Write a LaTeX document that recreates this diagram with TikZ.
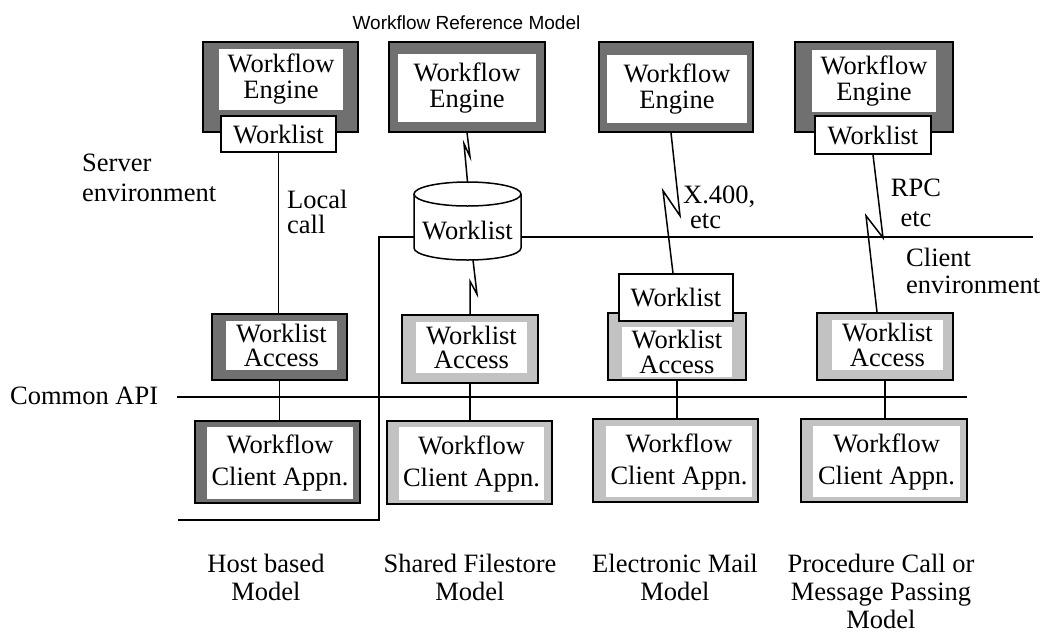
\documentclass[tikz,border=0pt]{standalone}
\usepackage{fontspec}
\setmainfont{Liberation Serif}
\newfontfamily\titlefont{Liberation Sans}
\definecolor{framedark}{gray}{0.44}
\definecolor{framelight}{gray}{0.76}
\tikzset{
  sz/.style 2 args={minimum width=#1pt, minimum height=#2pt},
  outerdark/.style={draw=black, fill=framedark, line width=1.5pt, inner sep=0pt},
  outerlight/.style={draw=black, fill=framelight, line width=1.5pt, inner sep=0pt},
  innerbox/.style={fill=white, inner sep=0pt, align=center},
  wlbox/.style={draw=black, fill=white, line width=1.5pt, inner sep=0pt, font=\fontsize{26.5}{26}\selectfont},
  engtext/.style={font=\fontsize{26.5}{26}\selectfont},
  watext/.style={font=\fontsize{26.5}{24.5}\selectfont},
  wcatext/.style={font=\fontsize{26.5}{32}\selectfont},
  conn/.style={line width=1.5pt},
  lbl/.style={inner sep=0pt, align=left, font=\fontsize{26.5}{26}\selectfont},
  clbl/.style={inner sep=0pt, align=center, font=\fontsize{26.5}{28}\selectfont},
}
\begin{document}
\begin{tikzpicture}[x=1pt, y=-1pt]
\useasboundingbox (0,0) rectangle (1043,633);

% title
\node[inner sep=0pt, font=\titlefont\fontsize{19}{20}\selectfont] (title) at (466.5,23) {Workflow Reference Model};

% engines
\node[outerdark, sz={155}{90}] (we1) at (280.5,87) {};
\node[innerbox, engtext, sz={124}{61}] (we1t) at (281,79.5) {Workflow\\Engine};
\node[wlbox, sz={115}{36}] (w1) at (278.5,134) {Worklist};

\node[outerdark, sz={156}{90}] (we2) at (467,87) {};
\node[innerbox, engtext, sz={138}{68}] (we2t) at (467,88) {Workflow\\Engine};

\node[outerdark, sz={154}{90}] (we3) at (676,87) {};
\node[innerbox, engtext, sz={140}{68}] (we3t) at (677,89) {Workflow\\Engine};

\node[outerdark, sz={158}{90}] (we4) at (874,87) {};
\node[innerbox, engtext, sz={124}{62}] (we4t) at (874,81) {Workflow\\Engine};
\node[wlbox, sz={116}{38}] (w4) at (873,135) {Worklist};

% shared worklist cylinder
\node[sz={107}{78}, inner sep=0pt] (cyl) at (467.5,221) {};
\draw[line width=1.5pt, fill=white] (414,194) -- (414,248)
  arc[start angle=180, end angle=360, x radius=53.5pt, y radius=12pt] -- (521,194);
\draw[line width=1.5pt, fill=white] (467.5,194) ellipse [x radius=53.5pt, y radius=12pt];
\node[inner sep=0pt, font=\fontsize{26.5}{26}\selectfont] (cylt) at (467.5,230) {Worklist};

% worklist access row
\node[outerdark, sz={135}{66}] (wa1) at (279.5,347) {};
\node[innerbox, watext, sz={111}{49}] (wa1t) at (281.5,345.5) {Worklist\\Access};

\node[outerlight, sz={136}{68}] (wa2) at (470,349) {};
\node[innerbox, watext, sz={111}{51}] (wa2t) at (471.5,347.5) {Worklist\\Access};

\node[outerlight, sz={138}{67}] (wa3) at (677,346.5) {};
\node[innerbox, watext, sz={110}{50}] (wa3t) at (677,352) {Worklist\\Access};
\node[wlbox, sz={114}{47}] (w3) at (676,297.5) {Worklist};

\node[outerlight, sz={136}{67}] (wa4) at (885,346.5) {};
\node[innerbox, watext, sz={111}{50}] (wa4t) at (887.5,345) {Worklist\\Access};

% client application row
\node[outerdark, sz={165}{82}] (wca1) at (277.5,462) {};
\node[innerbox, wcatext, sz={146}{72}] (wca1t) at (280,463) {Workflow\\Client Appn.};

\node[outerlight, sz={165}{83}] (wca2) at (469.5,462.5) {};
\node[innerbox, wcatext, sz={145}{73}] (wca2t) at (471.5,463.5) {Workflow\\Client Appn.};

\node[outerlight, sz={165}{83}] (wca3) at (675.5,460.5) {};
\node[innerbox, wcatext, sz={146}{71}] (wca3t) at (679,461.5) {Workflow\\Client Appn.};

\node[outerlight, sz={166}{83}] (wca4) at (884,460.5) {};
\node[innerbox, wcatext, sz={147}{71}] (wca4t) at (886.5,461.5) {Workflow\\Client Appn.};

% connectors
\draw[conn] (w1.south) -- (w1.south |- wa1.north);
\draw[conn] (wa1.south) -- (wa1.south |- wca1.north);
\draw[conn] (wa2.south) -- (wa2.south |- wca2.north);
\draw[conn] (wa3.south) -- (wa3.south |- wca3.north);
\draw[conn] (wa4.south) -- (wa4.south |- wca4.north);

\draw[conn] (we2.south) -- ++(3,24) -- ++(-6,-13) -- (cyl.north);
\draw[conn] ([xshift=5.5pt]cyl.south) -- ++(4,34) -- ++(-7,-13) -- (wa2.north);
\draw[conn] ([xshift=-5pt]we3.south) -- ++(9,83) -- ++(-17,-25) -- ([xshift=-3pt]w3.north);
\draw[conn] (w4.south) -- ++(10,83) -- ++(-17,-22) -- ([xshift=-8pt]wa4.north);

% environment boundary and API line
\coordinate (sc1) at (178,520);
\coordinate (sc2) at (379,520);
\coordinate (sc3) at (379,237);
\coordinate (sce) at (1033,237);
\draw[conn] (sc1) -- (sc2) -- (sc3) -- (sc3 -| cyl.west);
\draw[conn] (sc3 -| cyl.east) -- (sce);

\coordinate (api1) at (177,397);
\coordinate (api2) at (967,397);
\draw[conn] (api1) -- (api2);

% labels
\node[lbl, anchor=west] (capi) at (10,396) {Common API};
\node[lbl, anchor=west, font=\fontsize{26.5}{30}\selectfont] (serv) at (82,178) {Server\\environment};
\node[lbl, anchor=west, font=\fontsize{26.5}{25}\selectfont] (lcall) at (287,212) {Local\\call};
\node[lbl, anchor=west, font=\fontsize{26.5}{25}\selectfont] (x400) at (683,207) {X.400,\\\hspace*{7pt}etc};
\node[clbl, font=\fontsize{26.5}{30}\selectfont] (rpc) at (916,203) {RPC\\etc};
\node[lbl, anchor=west, font=\fontsize{26.5}{27}\selectfont] (cenv) at (906,271) {Client\\environment};

\node[clbl] (m1) at (266,577) {Host based\\Model};
\node[clbl] (m2) at (470,577) {Shared Filestore\\Model};
\node[clbl] (m3) at (675,577) {Electronic Mail\\Model};
\node[clbl] (m4) at (881,591) {Procedure Call or\\Message Passing\\Model};
\end{tikzpicture}
\end{document}
